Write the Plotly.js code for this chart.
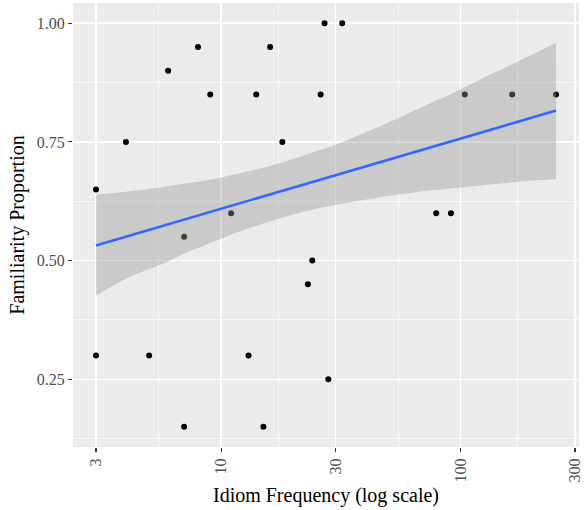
<!DOCTYPE html>
<html>
<head>
<meta charset="utf-8">
<script src="https://cdn.plot.ly/plotly-3.0.1.min.js"></script>
<style>html,body{margin:0;padding:0;background:#fff;}#chart{width:586px;height:510px;}</style>
</head>
<body>
<div id="chart"></div>
<script>
// Observed idioms: frequency (x, log scale) and familiarity proportion (y)
const idiomFrequency = [3, 4, 6, 8, 9, 14, 16, 18, 26, 27, 32, 11, 104, 164, 250, 79, 91, 7, 24, 23, 3, 5, 13, 7, 15, 28];
const familiarity    = [0.65, 0.75, 0.90, 0.95, 0.85, 0.85, 0.95, 0.75, 0.85, 1.00, 1.00, 0.60, 0.85, 0.85, 0.85, 0.60, 0.60, 0.55, 0.50, 0.45, 0.30, 0.30, 0.30, 0.15, 0.15, 0.25];

// Linear fit (on log x) and its confidence band
const fitX = [3, 250];
const fitY = [0.532, 0.816];
const bandX     = [3, 3.5, 4, 4.7, 5.5, 7, 8.5, 10, 13, 17.3, 22, 28.4, 34, 40, 47, 54.7, 64, 75, 87, 100, 115, 130, 150, 172, 210, 250];
const bandLower = [0.426, 0.446, 0.462, 0.477, 0.490, 0.515, 0.532, 0.546, 0.568, 0.588, 0.603, 0.615, 0.622, 0.628, 0.634, 0.639, 0.644, 0.648, 0.651, 0.654, 0.657, 0.660, 0.663, 0.666, 0.669, 0.672];
const bandUpper = [0.639, 0.642, 0.645, 0.649, 0.654, 0.662, 0.668, 0.675, 0.688, 0.704, 0.721, 0.739, 0.755, 0.770, 0.785, 0.800, 0.816, 0.832, 0.846, 0.861, 0.876, 0.890, 0.904, 0.919, 0.940, 0.959];

const xTicks = [3, 10, 30, 100, 300];
const xTickText = ['3', '10', '30', '100', '300'];
const xMinor = [5.477, 17.32, 54.77, 173.2];
const yTicks = [0.25, 0.50, 0.75, 1.00];
const yTickText = ['0.25', '0.50', '0.75', '1.00'];
const yMinor = [0.125, 0.375, 0.625, 0.875];

const FONT = '"Liberation Serif", "Times New Roman", serif';

const traces = [
  {
    x: idiomFrequency, y: familiarity, type: 'scatter', mode: 'markers',
    marker: {color: '#000000', size: 6, line: {width: 0}},
    hoverinfo: 'skip', showlegend: false
  },
  {
    x: bandX, y: bandLower, type: 'scatter', mode: 'lines',
    line: {width: 0, color: 'rgba(0,0,0,0)', shape: 'spline', smoothing: 0.6}, hoverinfo: 'skip', showlegend: false
  },
  {
    x: bandX, y: bandUpper, type: 'scatter', mode: 'lines',
    line: {width: 0, color: 'rgba(0,0,0,0)', shape: 'spline', smoothing: 0.6}, fill: 'tonexty',
    fillcolor: 'rgba(153,153,153,0.4)', hoverinfo: 'skip', showlegend: false
  },
  {
    x: fitX, y: fitY, type: 'scatter', mode: 'lines',
    line: {color: '#3366FF', width: 2.6}, hoverinfo: 'skip', showlegend: false
  }
];

const layout = {
  width: 586, height: 510,
  margin: {l: 73, r: 7, t: 3, b: 63},
  paper_bgcolor: '#FFFFFF',
  plot_bgcolor: '#EBEBEB',
  font: {family: FONT, color: '#4D4D4D', size: 16},
  showlegend: false,
  hovermode: false,
  xaxis: {
    type: 'log',
    range: [0.3811, 2.4938],
    tickmode: 'array', tickvals: xTicks, ticktext: xTickText,
    tickangle: -90,
    ticks: 'outside', ticklen: 4, tickwidth: 1.1, tickcolor: '#333333',
    tickfont: {family: FONT, size: 16, color: '#4D4D4D'},
    showgrid: true, gridcolor: '#FFFFFF', gridwidth: 1.5,
    minor: {tickmode: 'array', tickvals: xMinor, showgrid: true, gridcolor: '#FFFFFF', gridwidth: 0.7, ticklen: 0},
    zeroline: false, showline: false,
    title: {text: 'Idiom Frequency (log scale)', font: {family: FONT, size: 20, color: '#000000'}, standoff: 6}
  },
  yaxis: {
    range: [0.1075, 1.0425],
    tickmode: 'array', tickvals: yTicks, ticktext: yTickText,
    ticks: 'outside', ticklen: 4, tickwidth: 1.1, tickcolor: '#333333',
    tickfont: {family: FONT, size: 16, color: '#4D4D4D'},
    showgrid: true, gridcolor: '#FFFFFF', gridwidth: 1.5,
    minor: {tickmode: 'array', tickvals: yMinor, showgrid: true, gridcolor: '#FFFFFF', gridwidth: 0.7, ticklen: 0},
    zeroline: false, showline: false,
    title: {text: 'Familiarity Proportion', font: {family: FONT, size: 20, color: '#000000'}, standoff: 6}
  }
};

Plotly.newPlot('chart', traces, layout, {staticPlot: true, displayModeBar: false});
</script>
</body>
</html>
